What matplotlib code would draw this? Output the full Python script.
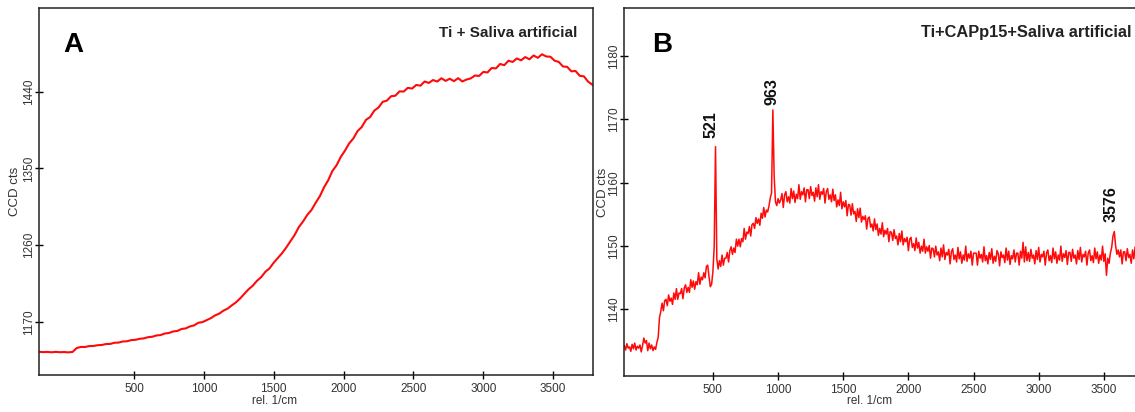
import numpy as np
import matplotlib
matplotlib.use("Agg")
import matplotlib.pyplot as plt

plt.rcParams['font.family'] = ['Liberation Sans', 'DejaVu Sans']

# panel A: Ti + Saliva artificial (sampled every 30 1/cm from -180)
wn_a_start, wn_a_step = -180, 30
cts_a = [
    1135.2, 1134.8, 1135.0, 1134.6, 1135.1, 1134.7, 1134.9, 1134.5, 1135.0, 1139.6,
    1140.9, 1140.8, 1141.9, 1142.0, 1142.9, 1143.2, 1144.3, 1144.4, 1145.8, 1146.0,
    1147.3, 1147.5, 1148.9, 1149.2, 1150.4, 1150.9, 1152.3, 1152.8, 1154.3, 1154.8,
    1156.6, 1157.2, 1159.0, 1159.6, 1161.9, 1162.6, 1164.9, 1166.1, 1169.2, 1170.0,
    1172.3, 1174.6, 1177.8, 1179.9, 1183.4, 1185.8, 1189.6, 1193.2, 1197.8, 1203.1,
    1208.5, 1212.6, 1218.4, 1222.6, 1228.9, 1233.0, 1239.6, 1245.2, 1250.8, 1257.5,
    1264.9, 1272.2, 1281.4, 1287.9, 1295.6, 1301.3, 1309.8, 1317.5, 1327.9, 1336.2,
    1347.1, 1353.8, 1363.6, 1370.9, 1379.4, 1385.2, 1393.8, 1398.6, 1406.9, 1410.3,
    1417.8, 1421.4, 1428.1, 1429.5, 1434.6, 1435.2, 1440.3, 1440.1, 1444.5, 1443.6,
    1447.8, 1447.0, 1451.9, 1450.2, 1453.6, 1451.8, 1455.7, 1452.6, 1455.1, 1452.3,
    1455.8, 1451.9, 1454.2, 1455.5, 1458.9, 1458.4, 1463.1, 1462.5, 1467.7, 1467.2,
    1472.4, 1471.0, 1476.2, 1474.8, 1478.9, 1476.7, 1480.5, 1477.9, 1482.4, 1479.6,
    1483.8, 1481.2, 1480.9, 1476.3, 1474.8, 1469.5, 1469.1, 1463.8, 1464.2, 1458.6,
    1457.9, 1451.7, 1448.2,
]

# panel B: Ti+CAPp15+Saliva artificial (sampled every 10 1/cm from -180)
wn_b_start, wn_b_step = -180, 10
cts_b = [
    1134.3, 1133.6, 1134.6, 1133.9, 1134.1, 1133.4, 1134.5, 1133.8, 1134.7, 1133.6,
    1134.2, 1133.9, 1134.4, 1133.3, 1134.3, 1135.5, 1134.7, 1135.1, 1133.5, 1134.7,
    1133.8, 1134.4, 1133.5, 1134.1, 1133.7, 1134.8, 1135.6, 1138.7, 1139.7, 1141.0,
    1139.8, 1141.4, 1141.6, 1140.6, 1142.3, 1141.3, 1141.8, 1140.8, 1142.6, 1141.6,
    1143.3, 1141.6, 1142.6, 1142.5, 1143.3, 1141.7, 1143.4, 1143.9, 1142.7, 1143.5,
    1142.7, 1144.7, 1143.5, 1144.5, 1143.2, 1144.4, 1143.9, 1145.8, 1144.0, 1145.1,
    1144.7, 1145.8, 1145.0, 1146.8, 1147.0, 1145.2, 1143.6, 1144.0, 1146.0, 1150.0,
    1165.7, 1148.0, 1146.4, 1147.7, 1146.8, 1148.6, 1147.0, 1148.1, 1148.1, 1149.0,
    1147.5, 1149.3, 1149.9, 1148.7, 1149.7, 1149.0, 1151.1, 1150.0, 1151.1, 1149.9,
    1151.2, 1150.7, 1152.8, 1151.1, 1152.2, 1152.0, 1153.1, 1151.6, 1153.4, 1153.6,
    1152.8, 1154.5, 1153.6, 1154.3, 1153.3, 1155.2, 1154.4, 1156.1, 1154.6, 1155.7,
    1155.4, 1156.3, 1157.6, 1158.4, 1171.5, 1161.0, 1157.0, 1156.4, 1157.5, 1156.8,
    1157.3, 1158.3, 1156.1, 1158.1, 1158.6, 1157.0, 1157.8, 1156.8, 1159.1, 1157.5,
    1158.7, 1156.9, 1158.2, 1157.5, 1159.7, 1157.4, 1158.6, 1158.1, 1159.2, 1157.0,
    1158.9, 1158.9, 1157.5, 1159.4, 1158.0, 1158.5, 1157.1, 1159.2, 1157.8, 1159.7,
    1157.4, 1158.6, 1158.2, 1159.1, 1156.8, 1158.6, 1159.1, 1157.4, 1158.1, 1157.0,
    1159.0, 1157.2, 1158.1, 1156.2, 1157.3, 1156.4, 1158.5, 1155.9, 1157.0, 1156.2,
    1157.2, 1154.8, 1156.6, 1156.5, 1154.9, 1156.7, 1155.1, 1155.5, 1153.9, 1155.9,
    1154.5, 1156.0, 1153.8, 1154.7, 1154.2, 1154.8, 1152.7, 1154.4, 1154.6, 1153.0,
    1153.5, 1152.4, 1154.3, 1152.6, 1153.5, 1151.7, 1152.8, 1151.9, 1153.7, 1151.5,
    1152.5, 1151.9, 1152.8, 1150.7, 1152.3, 1152.2, 1150.9, 1152.6, 1151.2, 1151.6,
    1150.2, 1152.0, 1150.7, 1152.4, 1150.2, 1151.2, 1150.7, 1151.4, 1149.3, 1151.1,
    1151.4, 1149.8, 1150.4, 1149.3, 1151.3, 1149.7, 1150.6, 1148.9, 1150.0, 1149.2,
    1151.1, 1148.9, 1149.9, 1149.2, 1150.1, 1148.1, 1149.7, 1149.6, 1148.3, 1150.0,
    1148.6, 1149.1, 1147.7, 1149.7, 1148.3, 1150.2, 1147.9, 1149.0, 1148.6, 1149.5,
    1147.2, 1149.1, 1149.6, 1147.9, 1148.6, 1147.5, 1149.8, 1148.0, 1149.1, 1147.3,
    1148.6, 1147.8, 1150.0, 1147.6, 1148.8, 1148.1, 1149.2, 1147.0, 1148.9, 1148.9,
    1148.9, 1147.0, 1149.2, 1148.1, 1148.7, 1147.5, 1149.9, 1147.7, 1148.5, 1147.2,
    1149.0, 1147.9, 1149.6, 1147.3, 1148.4, 1147.6, 1149.3, 1148.8, 1146.9, 1149.1,
    1148.2, 1148.6, 1147.4, 1149.7, 1147.8, 1149.2, 1147.1, 1148.5, 1148.0, 1149.4,
    1147.5, 1148.9, 1148.9, 1147.0, 1149.2, 1148.1, 1150.6, 1147.5, 1149.9, 1147.7,
    1149.0, 1147.6, 1149.5, 1148.1, 1148.6, 1147.2, 1149.3, 1147.9, 1149.8, 1147.5,
    1148.7, 1148.3, 1149.2, 1147.0, 1148.9, 1149.4, 1147.7, 1148.5, 1147.4, 1149.7,
    1148.0, 1149.1, 1147.3, 1148.6, 1147.8, 1150.0, 1147.6, 1148.8, 1148.2, 1149.3,
    1147.1, 1149.0, 1149.0, 1147.6, 1149.5, 1148.1, 1148.6, 1147.2, 1149.3, 1147.9,
    1149.8, 1147.5, 1148.7, 1148.3, 1149.2, 1147.0, 1148.9, 1149.4, 1147.7, 1148.5,
    1147.4, 1149.7, 1148.0, 1149.1, 1147.3, 1148.6, 1147.8, 1150.0, 1147.6, 1148.8,
    1145.4, 1148.1, 1147.3, 1148.9, 1149.8, 1151.6, 1152.3, 1150.1, 1148.7, 1149.4,
    1148.3, 1149.4, 1147.2, 1149.1, 1149.1, 1147.7, 1149.6, 1148.2, 1148.7, 1147.3,
    1149.4, 1148.0, 1149.9, 1147.6, 1148.8, 1148.4, 1149.3,
]

peak_lbl = ["521", "963", "3576"]
peak_txt_x = [488, 953, 3558]
peak_txt_y = [1167.0, 1172.3, 1153.8]

xticks = [500, 1000, 1500, 2000, 2500, 3000, 3500]
yticks_a = [1170, 1260, 1350, 1440]
yticks_b = [1140, 1150, 1160, 1170, 1180]

wn_a = wn_a_start + wn_a_step * np.arange(len(cts_a))
wn_b = wn_b_start + wn_b_step * np.arange(len(cts_b))

W, H = 1135, 412
fig = plt.figure(figsize=(W / 100, H / 100), dpi=100)
ax_a = fig.add_axes([39 / W, 37 / H, 554 / W, 367 / H])
ax_b = fig.add_axes([624.3 / W, 36 / H, 516.7 / W, 368 / H])


def style(ax, yticks, ylim, xlab_xy, ylab_xy):
    ax.set_xlim(-180, 3785)
    ax.set_ylim(*ylim)
    ax.set_xticks(xticks)
    ax.set_yticks(yticks)
    ax.tick_params(direction='inout', length=6, width=1, labelsize=8.5,
                   labelcolor='#333333')
    ax.tick_params(axis='x', pad=3)
    ax.tick_params(axis='y', pad=0)
    plt.setp(ax.get_yticklabels(), rotation=90, va='center')
    for s in ax.spines.values():
        s.set_linewidth(1.1)
        s.set_color('#222222')
    ax.set_xlabel('rel. 1/cm', fontsize=8.5, color='#333333')
    ax.xaxis.set_label_coords(*xlab_xy)
    ax.set_ylabel('CCD cts', fontsize=9.5, color='#333333')
    ax.yaxis.set_label_coords(*ylab_xy)


ax_a.plot(wn_a, cts_a, color='#ff0a0a', lw=1.5)
style(ax_a, yticks_a, (1108, 1538), (0.426, -0.0545), (-0.0325, 0.5))
ax_a.text(0.043, 0.88, 'A', transform=ax_a.transAxes, fontsize=20,
          fontweight='bold', va='baseline')
ax_a.text(0.971, 0.922, 'Ti + Saliva artificial', transform=ax_a.transAxes,
          fontsize=11, fontweight='bold', ha='right', va='baseline', color='#222222')

ax_b.plot(wn_b, cts_b, color='#ff0a0a', lw=1.1)
style(ax_b, yticks_b, (1129.5, 1187.6), (0.4755, -0.0516), (-0.0296, 0.5))
ax_b.text(0.053, 0.88, 'B', transform=ax_b.transAxes, fontsize=20,
          fontweight='bold', va='baseline')
ax_b.text(0.982, 0.922, 'Ti+CAPp15+Saliva artificial', transform=ax_b.transAxes,
          fontsize=11.8, fontweight='bold', ha='right', va='baseline', color='#222222')
for tx, ty, lb in zip(peak_txt_x, peak_txt_y, peak_lbl):
    ax_b.text(tx, ty, lb, rotation=90, ha='center', va='bottom',
              fontsize=11.5, fontweight='bold', color='#111111')

fig.savefig('out.png', dpi=100)
